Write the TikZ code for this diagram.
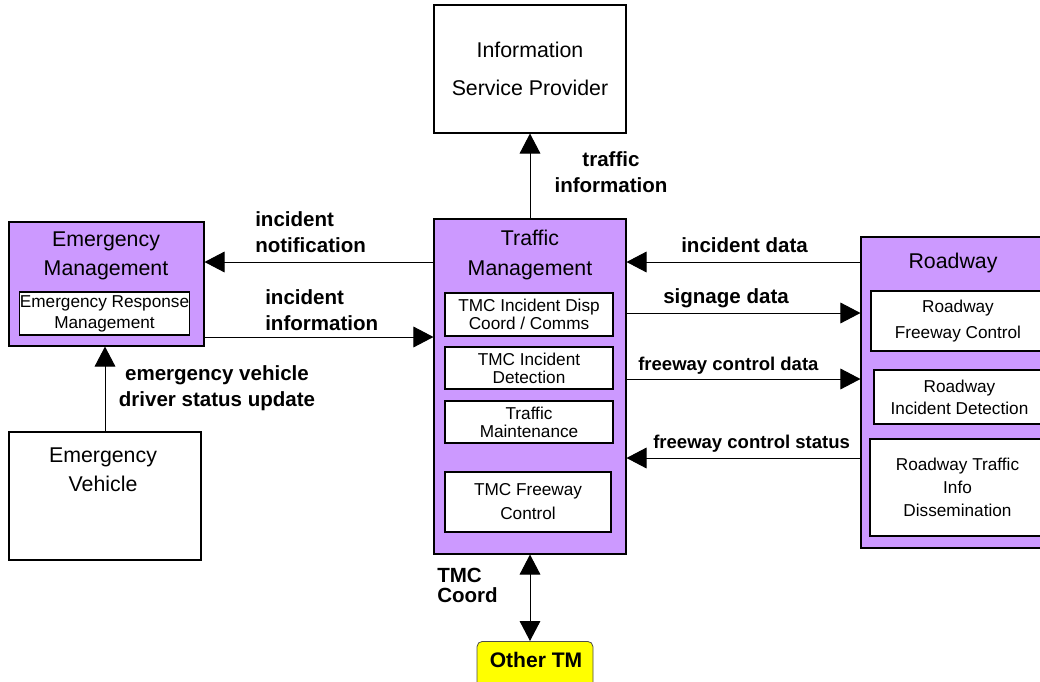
\documentclass[tikz,border=0pt]{standalone}
\usepackage{fontspec}
\setmainfont{Liberation Sans}
\usetikzlibrary{arrows.meta}
\definecolor{tmpurple}{RGB}{204,153,255}
\definecolor{tmyellow}{RGB}{255,255,0}

\begin{document}
\begin{tikzpicture}[x=0.75pt,y=-0.75pt,
    box/.style={draw,line width=0.8pt,inner sep=0pt},
    outerbox/.style={box,fill=tmpurple},
    plainbox/.style={box,fill=white,align=center,font=\fontsize{16}{21.75}\selectfont},
    subbox/.style={box,fill=white,align=center,font=\fontsize{12.9}{13.5}\selectfont},
    boxtitle/.style={align=center,inner sep=0pt,font=\fontsize{16}{21.75}\selectfont},
    flowlabel/.style={align=center,inner sep=0pt,font=\bfseries\fontsize{15.4}{19.5}\selectfont},
    arr/.style={line width=0.75pt,-{Triangle[length=15pt,width=15.5pt]}},
    dblarr/.style={line width=0.75pt,{Triangle[length=15pt,width=15.5pt]}-{Triangle[length=15pt,width=15.5pt]}}]

    \useasboundingbox (0,0) rectangle (1040,682);

    % Information Service Provider
    \node [plainbox,minimum width=144pt,minimum height=96pt,font=\fontsize{16}{28.5}\selectfont] (isp) at (530,69) {Information\\Service Provider};

    % Emergency Management
    \node [outerbox,minimum width=146.25pt,minimum height=93pt] (em) at (106.5,284) {};
    \node [boxtitle] (emtitle) at (106,255.5) {Emergency\\Management};
    \node [subbox,minimum width=126.75pt,minimum height=32.25pt,font=\fontsize{12.9}{15.75}\selectfont] (erm) at (104.5,313.5) {Emergency Response\\Management};

    % Emergency Vehicle
    \node [plainbox,minimum width=144pt,minimum height=96pt] (ev) at (105,496) {};
    \node [boxtitle] (evtitle) at (103,469.5) {Emergency\\Vehicle};

    % Traffic Management
    \node [outerbox,minimum width=144pt,minimum height=251.25pt] (tm) at (530,386.5) {};
    \node [boxtitle,font=\fontsize{16}{22.5}\selectfont] (tmtitle) at (530,255) {Traffic\\Management};
    \node [subbox,minimum width=126pt,minimum height=32.25pt] (tmdisp) at (529,314.5) {TMC Incident Disp\\Coord / Comms};
    \node [subbox,minimum width=126pt,minimum height=31.5pt] (tmdet) at (529,368) {TMC Incident\\Detection};
    \node [subbox,minimum width=126pt,minimum height=31.5pt] (tmmaint) at (529,422) {Traffic\\Maintenance};
    \node [subbox,minimum width=124.5pt,minimum height=45pt,font=\fontsize{12.9}{18}\selectfont] (tmfwy) at (528,502) {TMC Freeway\\Control};

    % Roadway (runs off the right edge)
    \node [outerbox,minimum width=139.5pt,minimum height=233.25pt] (rw) at (954,392.5) {};
    \node [boxtitle] (rwtitle) at (953,263) {Roadway};
    \node [subbox,minimum width=130.5pt,minimum height=45pt,font=\fontsize{12.9}{19.5}\selectfont] (rwfwy) at (958,321) {Roadway\\Freeway Control};
    \node [subbox,minimum width=128.25pt,minimum height=40.5pt,font=\fontsize{12.9}{16.5}\selectfont] (rwdet) at (959.5,397) {Roadway\\Incident Detection};
    \node [subbox,minimum width=131.25pt,minimum height=72.75pt,font=\fontsize{12.9}{17.25}\selectfont] (rwinfo) at (957.5,487.5) {Roadway Traffic\\Info\\Dissemination};

    % Other TM (runs off the bottom edge)
    \node [box,draw=black!70,line width=0.6pt,fill=tmyellow,rounded corners=4pt,minimum width=87pt,minimum height=37.5pt,anchor=north] (other) at (535,641) {};
    \node [font=\bfseries\fontsize{15.8}{18}\selectfont,inner sep=0pt] (othertitle) at (536,660) {Other TM};

    % flows
    \draw [arr] (tm.north) -- (isp.south);
    \draw [arr] (tm.west |- 0,262) -- (em.east |- 0,262);
    \draw [arr] (em.east |- 0,337) -- (tm.west |- 0,337);
    \draw [arr] (ev.north) -- (ev.north |- em.south);
    \draw [arr] (rw.west |- 0,262) -- (tm.east |- 0,262);
    \draw [arr] (tm.east |- 0,313) -- (rw.west |- 0,313);
    \draw [arr] (tm.east |- 0,379) -- (rw.west |- 0,379);
    \draw [arr] (rw.west |- 0,458) -- (tm.east |- 0,458);
    \draw [dblarr] (tm.south) -- (tm.south |- other.north);

    % flow labels
    \node [flowlabel] (lbltraffic) at (611,172) {traffic\\information};
    \node [flowlabel,align=left,anchor=west] (lblnotif) at (255,232) {incident\\notification};
    \node [flowlabel,align=left,anchor=west] (lblinfo) at (265,310) {incident\\information};
    \node [flowlabel] (lblstatus) at (217,388) {emergency vehicle\\driver status update};
    \node [flowlabel,anchor=west] (lblincdata) at (681,245) {incident data};
    \node [flowlabel,anchor=west] (lblsign) at (663,298) {signage data};
    \node [flowlabel,anchor=west,font=\bfseries\fontsize{13.9}{16}\selectfont] (lblfwydata) at (638,366) {freeway control data};
    \node [flowlabel,anchor=west,font=\bfseries\fontsize{13.9}{16}\selectfont] (lblfwystatus) at (653,444) {freeway control status};
    \node [flowlabel,align=left,anchor=west,font=\bfseries\fontsize{15.4}{15}\selectfont] (lblcoord) at (437,585) {TMC\\Coord};

\end{tikzpicture}
\end{document}
